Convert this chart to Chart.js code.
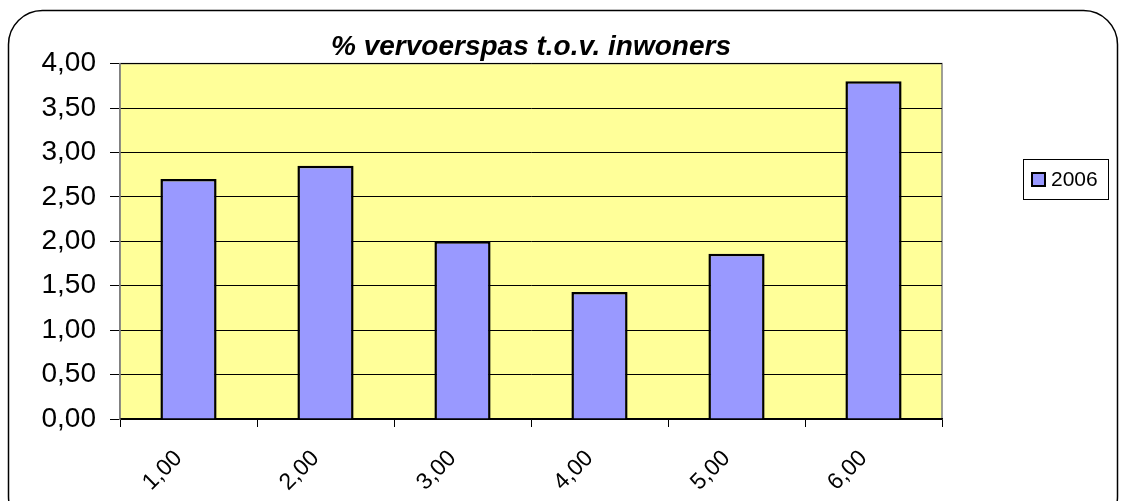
<!DOCTYPE html>
<html>
<head>
<meta charset="utf-8">
<script src="https://cdn.jsdelivr.net/npm/chart.js@4"></script>
<style>
  html, body { margin: 0; padding: 0; background: #fff; }
  #wrap { width: 1124px; height: 501px; }
</style>
</head>
<body>
<div id="wrap"><canvas id="chart1" width="1124" height="501"></canvas></div>
<script>
/************* data ********* */
const categories = ["1,00", "2,00", "3,00", "4,00", "5,00", "6,00"];
const values2006 = [2.70, 2.85, 2.00, 1.43, 1.86, 3.80];
const seriesName = "2006";
const yTicks = [0, 0.5, 1, 1.5, 2, 2.5, 3, 3.5, 4];

const barColor = '#9999FF';
const plotColor = '#FFFF99';

// frame, plot background and legend box
const excelLook = {
    id: 'excelLook',
    beforeDraw(chart) {
        const c = chart.ctx, a = chart.chartArea;
        c.save();
        c.fillStyle = '#fff';
        c.fillRect(0, 0, chart.width, chart.height);
        // rounded outer frame
        c.strokeStyle = '#000';
        c.lineWidth = 1.5;
        c.beginPath();
        c.roundRect(8.5, 10.5, 1109, 520, 34);
        c.stroke();
        // plot area
        c.fillStyle = plotColor;
        c.fillRect(a.left, a.top, a.right - a.left, a.bottom - a.top);
        c.strokeStyle = '#808080';
        c.lineWidth = 1.5;
        c.strokeRect(a.left, a.top, a.right - a.left, a.bottom - a.top);
        c.restore();
    },
    afterDraw(chart) {
        const c = chart.ctx;
        const ds = chart.data.datasets[0];
        c.save();
        c.fillStyle = '#fff';
        c.strokeStyle = '#000';
        c.lineWidth = 1;
        c.fillRect(1023.5, 159.5, 85, 40);
        c.strokeRect(1023.5, 159.5, 85, 40);
        c.fillStyle = ds.backgroundColor;
        c.fillRect(1032, 173, 13, 13);
        c.lineWidth = 2;
        c.strokeRect(1032, 173, 13, 13);
        c.fillStyle = '#000';
        c.font = '21px "Liberation Sans", Arial, sans-serif';
        c.textBaseline = 'middle';
        c.fillText(ds.label, 1051, 180);
        c.restore();
    }
};

new Chart("chart1", {
    type: "bar",
    data: {
        labels: categories,
        datasets: [{
            label: seriesName,
            backgroundColor: barColor,
            borderColor: '#000',
            borderWidth: 2.5,
            data: values2006,
            barPercentage: 0.41,
            categoryPercentage: 1.0
        }]
    },
    options: {
        responsive: false,
        animation: false,
        layout: { padding: { left: 0, right: 182, top: 0, bottom: 0 } },
        plugins: {
            legend: { display: false },
            tooltip: { enabled: false },
            title: {
                display: true,
                fullSize: false,
                text: '% vervoerspas t.o.v. inwoners',
                color: '#000',
                font: { family: '"Liberation Sans", Arial, sans-serif', size: 28, style: 'italic', weight: 'bold' },
                padding: { top: 30, bottom: 0 }
            }
        },
        scales: {
            x: {
                offset: true,
                afterFit(scale) { scale.height = 82; },
                grid: {
                    offset: true,
                    drawOnChartArea: false,
                    drawTicks: true,
                    tickLength: 8,
                    color: '#000',
                    lineWidth: 1
                },
                border: { color: '#000', width: 1.5 },
                ticks: {
                    color: '#000',
                    minRotation: 45,
                    maxRotation: 45,
                    padding: 18,
                    labelOffset: -10,
                    autoSkip: false,
                    font: { family: '"Liberation Sans", Arial, sans-serif', size: 23 }
                }
            },
            y: {
                min: 0,
                max: 4,
                afterFit(scale) { scale.width = 120; },
                afterBuildTicks(scale) { scale.ticks = yTicks.map(v => ({ value: v })); },
                grid: {
                    color: '#000',
                    lineWidth: 1,
                    tickLength: 10
                },
                border: { color: '#808080', width: 1.5 },
                ticks: {
                    color: '#000',
                    padding: 14,
                    font: { family: '"Liberation Sans", Arial, sans-serif', size: 28 },
                    callback: v => Number(v).toFixed(2).replace('.', ',')
                }
            }
        }
    },
    plugins: [excelLook]
});
</script>
</body>
</html>
